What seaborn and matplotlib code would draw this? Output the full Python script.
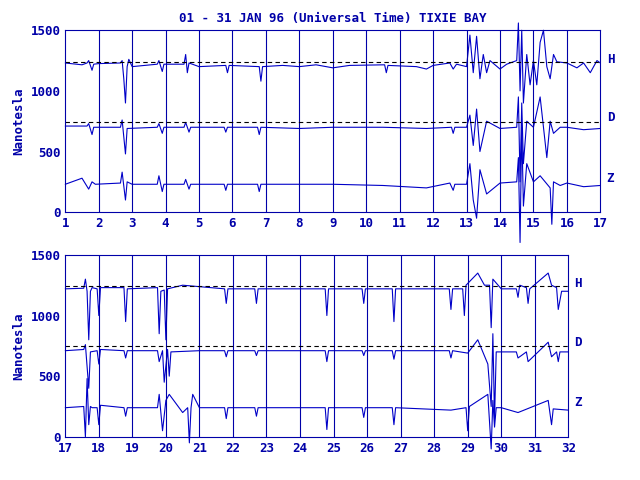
import matplotlib
matplotlib.use("Agg")
import matplotlib.pyplot as plt
import seaborn as sns
import pandas as pd
from matplotlib.ticker import MultipleLocator

sns.set_style("white")
plt.rcParams["font.family"] = ["DejaVu Sans Mono"]
BLUE = "#0000A8"
TRACE = "#0000C8"

# ---- top panel (1-17 Jan) ----
top_h_t = [1, 1.5, 1.65, 1.7, 1.8, 1.85, 2.0, 2.65, 2.7, 2.75, 2.8, 2.85, 2.9, 3.0, 3.75, 3.8, 3.9, 3.95,
           4.55, 4.6, 4.65, 4.7, 5.0, 5.8, 5.85, 5.9, 6.8, 6.85, 6.9, 7.5, 8.0, 8.5, 9.0, 9.5, 10.55, 10.6,
           10.65, 11.5, 11.8, 12.0, 12.5, 12.6, 12.7, 13.0, 13.1, 13.2, 13.3, 13.4, 13.5, 13.6, 13.7, 14.0,
           14.2, 14.5, 14.55, 14.6, 14.65, 14.7, 14.8, 14.9, 15.0, 15.1, 15.2, 15.3, 15.4, 15.5, 15.6, 15.7,
           16.0, 16.3, 16.5, 16.7, 16.9, 17.0]
top_h_v = [1230, 1215, 1230, 1250, 1170, 1220, 1225, 1230, 1250, 1100, 900, 1200, 1260, 1200, 1220, 1250,
           1160, 1220, 1220, 1300, 1150, 1230, 1200, 1210, 1150, 1210, 1200, 1080, 1200, 1210, 1200, 1215,
           1190, 1210, 1215, 1150, 1210, 1200, 1180, 1210, 1230, 1180, 1220, 1200, 1460, 1150, 1450, 1100,
           1300, 1150, 1250, 1180, 1220, 1250, 1560, 1000, 1500, 900, 1300, 1050, 1250, 1050, 1400, 1500,
           1200, 1100, 1300, 1240, 1230, 1190, 1230, 1150, 1250, 1230]
top_d_t = [1, 1.65, 1.7, 1.8, 1.85, 2.65, 2.7, 2.8, 2.85, 3.75, 3.8, 3.9, 3.95, 4.55, 4.6, 4.7, 4.75, 5.75,
           5.8, 5.85, 6.75, 6.8, 6.85, 8.0, 9.0, 10.5, 11.8, 12.55, 12.6, 12.65, 13.0, 13.1, 13.2, 13.3, 13.4,
           13.6, 14.0, 14.5, 14.55, 14.6, 14.65, 14.7, 14.8, 15.0, 15.2, 15.4, 15.5, 15.6, 15.8, 16.0, 16.5, 17.0]
top_d_v = [710, 710, 730, 640, 700, 700, 760, 480, 690, 700, 730, 650, 700, 700, 740, 660, 700, 700, 660, 700,
           700, 640, 700, 690, 700, 700, 690, 700, 650, 700, 700, 800, 550, 850, 500, 750, 690, 700, 950, 250,
           900, 400, 750, 700, 950, 450, 750, 650, 700, 700, 680, 690]
top_z_t = [1, 1.5, 1.7, 1.8, 1.9, 2.65, 2.7, 2.8, 2.85, 3.0, 3.75, 3.8, 3.9, 3.95, 4.55, 4.6, 4.7, 4.75, 5.75,
           5.8, 5.85, 6.75, 6.8, 6.85, 8.0, 9.0, 10.5, 11.8, 12.5, 12.6, 12.65, 13.0, 13.1, 13.2, 13.3, 13.4,
           13.6, 14.0, 14.5, 14.55, 14.6, 14.65, 14.7, 14.8, 15.0, 15.2, 15.5, 15.55, 15.6, 15.8, 16.0, 16.5, 17.0]
top_z_v = [230, 280, 190, 250, 230, 240, 330, 100, 250, 230, 230, 300, 170, 230, 230, 270, 190, 230, 230, 180,
           230, 230, 170, 230, 230, 230, 220, 200, 240, 180, 230, 230, 400, 100, -50, 350, 150, 240, 250, 450,
           -250, 700, 50, 400, 250, 300, 200, -100, 250, 220, 240, 210, 220]

# ---- bottom panel (17-32 Jan) ----
bot_h_t = [17, 17.55, 17.6, 17.65, 17.7, 17.75, 17.8, 17.95, 18.0, 18.05, 18.75, 18.8, 18.85, 19.75, 19.8,
           19.85, 19.95, 20.0, 20.05, 20.5, 21.75, 21.8, 21.85, 22.65, 22.7, 22.75, 24.75, 24.8, 24.85, 25.85,
           25.9, 25.95, 26.75, 26.8, 26.85, 28.45, 28.5, 28.55, 28.85, 28.9, 28.95, 29.3, 29.5, 29.65, 29.7,
           29.75, 30.0, 30.45, 30.5, 30.55, 30.75, 30.8, 30.85, 31.4, 31.5, 31.65, 31.7, 31.8, 32.0]
bot_h_v = [1220, 1225, 1300, 1200, 800, 1200, 1230, 1220, 1000, 1230, 1230, 950, 1220, 1230, 850, 1200, 1210,
           800, 1220, 1250, 1220, 1100, 1220, 1220, 1100, 1220, 1220, 1000, 1220, 1220, 1100, 1220, 1220, 950,
           1220, 1220, 1050, 1220, 1220, 1000, 1250, 1350, 1250, 1250, 900, 1300, 1220, 1220, 1150, 1250, 1230,
           1100, 1220, 1350, 1250, 1230, 1050, 1200, 1200]
bot_d_t = [17, 17.55, 17.6, 17.7, 17.75, 17.95, 18.0, 18.05, 18.75, 18.8, 18.85, 19.75, 19.8, 19.9, 19.95,
           20.05, 20.1, 20.15, 21.0, 21.75, 21.8, 21.85, 22.65, 22.7, 22.75, 24.75, 24.8, 24.85, 25.85, 25.9,
           25.95, 26.75, 26.8, 26.85, 28.45, 28.5, 28.55, 29.0, 29.3, 29.6, 29.7, 29.75, 29.8, 29.85, 30.0,
           30.45, 30.5, 30.75, 30.8, 31.4, 31.5, 31.65, 31.7, 31.75, 32.0]
bot_d_v = [710, 720, 760, 400, 700, 710, 600, 720, 710, 650, 710, 710, 620, 710, 450, 720, 500, 700, 710, 710,
           660, 710, 710, 670, 710, 710, 620, 710, 710, 670, 710, 710, 640, 710, 710, 650, 710, 690, 800, 600,
           250, 850, 150, 700, 700, 700, 650, 700, 620, 780, 660, 700, 620, 700, 700]
bot_z_t = [17, 17.55, 17.6, 17.65, 17.7, 17.75, 17.8, 17.95, 18.0, 18.05, 18.75, 18.8, 18.85, 19.75, 19.8,
           19.9, 20.0, 20.1, 20.5, 20.65, 20.7, 20.75, 20.8, 21.0, 21.75, 21.8, 21.85, 22.65, 22.7, 22.75, 24.75,
           24.8, 24.85, 25.85, 25.9, 25.95, 26.75, 26.8, 26.85, 28.5, 28.95, 29.0, 29.05, 29.6, 29.7, 29.75,
           29.8, 29.85, 30.0, 30.5, 31.4, 31.5, 31.55, 32.0]
bot_z_v = [240, 250, 0, 480, 100, 250, 240, 240, 100, 260, 240, 170, 240, 240, 350, 50, 300, 350, 200, 240, -50,
           240, 350, 240, 240, 150, 240, 240, 170, 240, 240, 60, 240, 240, 160, 240, 240, 100, 240, 220, 240, 50,
           250, 350, -100, 300, 80, 240, 240, 200, 300, 100, 230, 220]

ref_h = 1240
ref_d = 745

fig = plt.figure(figsize=(6.4, 4.8), dpi=100)
ax1 = fig.add_axes([0.102, 0.558, 0.836, 0.379])
ax2 = fig.add_axes([0.102, 0.090, 0.786, 0.379])

panels = [
    (ax1, 1, 17, [(top_h_t, top_h_v), (top_d_t, top_d_v), (top_z_t, top_z_v)]),
    (ax2, 17, 32, [(bot_h_t, bot_h_v), (bot_d_t, bot_d_v), (bot_z_t, bot_z_v)]),
]
for ax, x0, x1, series in panels:
    for t, v in series:
        df = pd.DataFrame({"t": t, "v": v})
        sns.lineplot(data=df, x="t", y="v", ax=ax, color=TRACE, lw=0.8, sort=False, estimator=None)
    for line in ax.get_lines():
        line.set_clip_on(False)
    for d in range(x0 + 1, x1):
        ax.axvline(d, color=BLUE, lw=0.8)
    ax.axhline(ref_h, color="black", ls=(0, (4, 3)), lw=0.8)
    ax.axhline(ref_d, color="black", ls=(0, (4, 3)), lw=0.8)
    ax.set_xlim(x0, x1)
    ax.set_ylim(0, 1500)
    ax.set_xticks(range(x0, x1 + 1))
    ax.set_yticks([0, 500, 1000, 1500])
    ax.yaxis.set_minor_locator(MultipleLocator(100))
    ax.xaxis.set_minor_locator(MultipleLocator(0.25))
    ax.tick_params(axis="both", which="both", direction="in", colors=BLUE, labelsize=9)
    ax.tick_params(which="major", length=6)
    ax.tick_params(which="minor", length=3)
    for lab in ax.get_xticklabels() + ax.get_yticklabels():
        lab.set_fontweight("bold")
    for s in ax.spines.values():
        s.set_color(BLUE)
    ax.set_xlabel("")
    ax.set_ylabel("Nanotesla", color=BLUE, fontweight="bold", fontsize=9)
    for name, y in [("H", 1260), ("D", 780), ("Z", 280)]:
        ax.text(1.012, y, name, transform=ax.get_yaxis_transform(),
                color=BLUE, fontweight="bold", fontsize=9, va="center")

ax1.set_title("01 - 31 JAN 96 (Universal Time) TIXIE BAY", color=BLUE, fontweight="bold", fontsize=9)
fig.savefig("out.png", dpi=100)
